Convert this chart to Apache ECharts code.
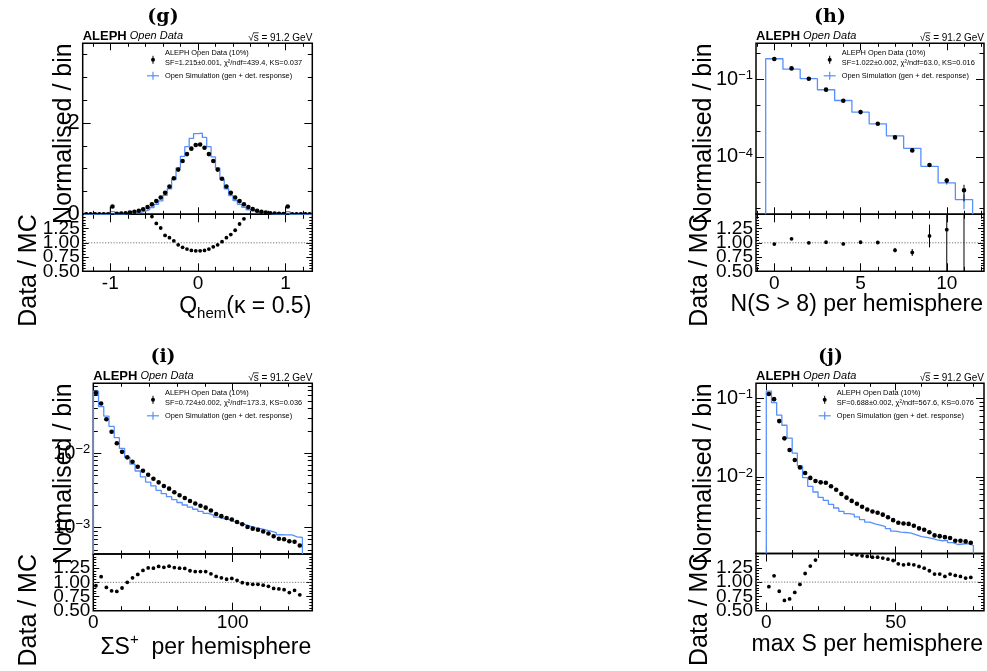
<!DOCTYPE html>
<html>
<head>
<meta charset="utf-8">
<script src="https://cdn.jsdelivr.net/npm/echarts@6/dist/echarts.min.js"></script>
<style>
  html, body { margin: 0; padding: 0; background: #fff; }
  #chart { width: 987px; height: 671px; }
</style>
</head>
<body>
<div id="chart"></div>
<script>
// ---------------------------------------------------------------------------
// (g) hemisphere charge Q_hem (kappa = 0.5): 52 bins of 0.05 starting at -1.3
const qhemBinStart = -1.3;
const qhemBinWidth = 0.05;
const qhemData = [0, 0, 0, 0, 0, 0,
  0.17, 0.009, 0.015, 0.023, 0.036, 0.055, 0.078, 0.112, 0.158, 0.218,
  0.29, 0.37, 0.47, 0.61, 0.79, 0.98, 1.17, 1.32, 1.44, 1.52,
  1.53, 1.46, 1.32, 1.17, 0.98, 0.78, 0.61, 0.47, 0.37, 0.29,
  0.22, 0.16, 0.113, 0.079, 0.055, 0.036, 0.023, 0.015, 0.009, 0.005,
  0.17, 0, 0, 0, 0, 0];
const qhemSim = [0, 0, 0, 0, 0, 0,
  0.06, 0.004, 0.007, 0.012, 0.019, 0.03, 0.045, 0.068, 0.10, 0.149,
  0.216, 0.294, 0.416, 0.56, 0.763, 1.016, 1.272, 1.483, 1.663, 1.77,
  1.78, 1.686, 1.483, 1.258, 1.016, 0.765, 0.56, 0.41, 0.303, 0.218,
  0.155, 0.10, 0.068, 0.045, 0.03, 0.019, 0.012, 0.007, 0.004, 0.003,
  0.06, 0, 0, 0, 0, 0];
const qhemRatio = [null, null, null, null, null, null, null, null, null, null, null, null, null, null, null,
  1.46, 1.34, 1.26, 1.13, 1.09, 1.035, 0.965, 0.92, 0.89, 0.866, 0.86,
  0.86, 0.866, 0.89, 0.93, 0.965, 1.02, 1.09, 1.145, 1.22, 1.33, 1.42,
  null, null, null, null, null, null, null, null, null, null, null, null, null, null, null];
// bins holding the single-track hemispheres (|Q| = 1), drawn with a rising edge
const qhemEdgeBins = [6, 46];
const qhemXLabels = [-1, 0, 1];
const qhemYLabels = [0, 2];
const qhemStat = 'SF=1.215±0.001, χ²/ndf=439.4, KS=0.037';

// (h) number of tracks with S > 8 per hemisphere: integer bins 0..11
const nsBinStart = -0.5;
const nsBinWidth = 1;
const nsData = [0.593, 0.258, 0.103, 0.039, 0.01456, 0.0053, 0.00188, 5.6e-4, 1.76e-4, 4.8e-5, 1.22e-5, 5.1e-6];
const nsDataErr = [0.0006, 0.0004, 0.00025, 0.00015, 9e-5, 5.5e-5, 3.5e-5, 1.9e-5, 1.06e-5, 5.5e-6, 2.8e-6, 3.2e-6];
const nsSim = [0.607, 0.241, 0.103, 0.0386, 0.01486, 0.00525, 0.00187, 6.44e-4, 2.12e-4, 4.29e-5, 9.9e-6, 2.24e-6];
const nsSimErr = [2e-4, 1.3e-4, 8e-5, 5e-5, 3e-5, 1.8e-5, 1.1e-5, 6e-6, 3.5e-6, 1.6e-6, 1.5e-6, 1.3e-6];
const nsRatio = [0.977, 1.07, 1.0, 1.01, 0.98, 1.01, 1.005, 0.87, 0.83, 1.12, 1.23, 2.28];
const nsRatioErr = [0.002, 0.003, 0.004, 0.007, 0.011, 0.018, 0.02, 0.04, 0.06, 0.2, 0.75, 1.9];
const nsXLabels = [0, 5, 10];
const nsYLabels = [1e-4, 1e-1];
const nsStat = 'SF=1.022±0.002, χ²/ndf=63.0, KS=0.016';

// (i) sum of S+ per hemisphere: 40 bins over 0..150
const sumBinStart = 0;
const sumBinWidth = 3.75;
const sumData = [0.0646, 0.0468, 0.0288, 0.0195, 0.01365, 0.01047, 0.00883, 0.00771, 0.00661, 0.00583,
  0.00516, 0.00455, 0.00407, 0.00363, 0.00335, 0.00299, 0.00273, 0.00251, 0.00228, 0.00211,
  0.00197, 0.00186, 0.00170, 0.00153, 0.00143, 0.00135, 0.00129, 0.00119, 0.00111, 0.00102,
  0.000970, 0.000938, 0.000887, 0.000836, 0.000767, 0.000710, 0.000698, 0.000656, 0.000646, 0.000575];
const sumSim = [0.0687, 0.0426, 0.0317, 0.0230, 0.01626, 0.01164, 0.00883, 0.00715, 0.00579, 0.00482,
  0.00411, 0.00364, 0.00318, 0.00287, 0.00261, 0.00238, 0.00218, 0.00202, 0.00189, 0.00177,
  0.00166, 0.00156, 0.00148, 0.00139, 0.00132, 0.00128, 0.00121, 0.00115, 0.00111, 0.00105,
  0.00100, 0.000970, 0.000933, 0.000900, 0.000859, 0.000804, 0.000802, 0.000800, 0.000752, 0.000738];
const sumRatio = [0.94, 1.10, 0.91, 0.85, 0.84, 0.90, 1.0, 1.08, 1.14, 1.21,
  1.255, 1.25, 1.28, 1.265, 1.285, 1.26, 1.25, 1.245, 1.205, 1.19,
  1.19, 1.19, 1.15, 1.105, 1.08, 1.055, 1.07, 1.035, 0.995, 0.975,
  0.965, 0.965, 0.95, 0.93, 0.893, 0.884, 0.87, 0.82, 0.86, 0.78];
const sumXLabels = [0, 100];
const sumYLabels = [1e-3, 1e-2];
const sumStat = 'SF=0.724±0.002, χ²/ndf=173.3, KS=0.036';

// (j) maximum S per hemisphere: 40 bins over 0..80
const maxBinStart = 0;
const maxBinWidth = 2;
const maxData = [0.1138, 0.0977, 0.0513, 0.0309, 0.0220, 0.01637, 0.01318, 0.01119, 0.00968, 0.00885,
  0.00849, 0.00838, 0.00759, 0.00684, 0.00603, 0.00542, 0.00493, 0.00454, 0.00415, 0.00383,
  0.00361, 0.00348, 0.00329, 0.00305, 0.00280, 0.00260, 0.00254, 0.00251, 0.00238, 0.00220,
  0.00211, 0.00196, 0.00179, 0.00175, 0.00170, 0.00166, 0.00153, 0.00153, 0.00150, 0.00144];
const maxSim = [0.1236, 0.0881, 0.0611, 0.0454, 0.0312, 0.0200, 0.01374, 0.00973, 0.00757, 0.00640,
  0.00548, 0.00499, 0.00444, 0.00400, 0.00363, 0.00339, 0.00331, 0.00308, 0.00284, 0.00264,
  0.00251, 0.00242, 0.00232, 0.00218, 0.00203, 0.00197, 0.00195, 0.00191, 0.00182, 0.00173,
  0.00169, 0.00164, 0.00157, 0.00153, 0.00155, 0.00145, 0.00137, 0.00139, 0.00141, 0.00133];
const maxRatio = [0.92, 1.11, 0.84, 0.68, 0.705, 0.82, 0.96, 1.15, 1.28, 1.385,
  1.55, 1.68, 1.71, 1.71, 1.66, 1.6, 1.49, 1.477, 1.459, 1.448,
  1.436, 1.436, 1.42, 1.40, 1.378, 1.32, 1.302, 1.314, 1.302, 1.273,
  1.244, 1.198, 1.14, 1.14, 1.099, 1.14, 1.116, 1.099, 1.07, 1.081];
const maxXLabels = [0, 50];
const maxYLabels = [1e-2, 1e-1];
const maxStat = 'SF=0.688±0.002, χ²/ndf=567.6, KS=0.076';

// shared labels
const ratioYLabelsA = [0.5, 1.0];
const ratioYLabelsB = [0.75, 1.25];
const ratioReference = 1;
const dataLegend = 'ALEPH Open Data (10%)';
const simLegend = 'Open Simulation (gen + det. response)';
const energyLabel = '√s = 91.2 GeV';
const yTitleMain = 'Normalised / bin';
const yTitleRatio = 'Data / MC';

// ---------------------------------------------------------------------------
const FONT = '"Liberation Sans", Arial, Helvetica, sans-serif';
const SERIF = '"DejaVu Serif", "Liberation Serif", serif';
const SIM_BLUE = '#5790fc';

function linTicks(min, max, step, skip) {
  const out = [];
  for (let v = Math.ceil(min / step - 1e-9) * step; v <= max + 1e-9; v += step) {
    const r = Math.round(v * 1e6) / 1e6;
    if (!skip.some(s => Math.abs(s - r) < 1e-6)) out.push(r);
  }
  return out;
}
function logMinorTicks(min, max, sub, skip) {
  const out = [];
  for (let k = Math.floor(min) - 1; k <= Math.ceil(max); k++) {
    const mult = sub ? [1, 2, 3, 4, 5, 6, 7, 8, 9] : [1];
    mult.forEach(m => {
      const v = k + Math.log10(m);
      if (v >= min && v <= max && !skip.some(s => Math.abs(s - v) < 1e-6)) out.push(v);
    });
  }
  return out;
}
const expLabel = v => {
  const e = Math.round(v);
  return '10{sup|' + (e < 0 ? '\u2212' + (-e) : String(e)) + '}';
};

const panels = [
  {
    tag: '(g)', frame: { l: 82.7, r: 312.3, t: 43.3, m: 214.3, b: 271.3 },
    log: false,
    x: { min: -1.315, max: 1.305, major: qhemXLabels, minorStep: 0.2, labels: qhemXLabels },
    y: { min: 0, max: 3.75, major: [0, 2], minorStep: 0.5, labels: qhemYLabels },
    binStart: qhemBinStart, binWidth: qhemBinWidth,
    data: qhemData, sim: qhemSim, ratio: qhemRatio, edgeBins: qhemEdgeBins,
    stat: qhemStat, xTitle: 'Q{sub|hem}(κ = 0.5)',
    text: { tagX: 163, tagY: 17.5, legendX: 165, yTitleX: 77, rTitleX: 42, xTitleDy: 35 }
  },
  {
    tag: '(h)', frame: { l: 756, r: 984, t: 43.3, m: 214.3, b: 271.3 },
    log: true, subDecades: false,
    x: { min: -1.062, max: 12.16, major: nsXLabels, minorStep: 1, labels: nsXLabels },
    y: { min: -6.22, max: 0.38, labels: nsYLabels },
    binStart: nsBinStart, binWidth: nsBinWidth,
    data: nsData, dataErr: nsDataErr, sim: nsSim, simErr: nsSimErr, ratio: nsRatio, ratioErr: nsRatioErr,
    stat: nsStat, xTitle: 'N(S > 8) per hemisphere',
    text: { tagX: 830, tagY: 17.5, legendX: 841.7, yTitleX: 717, rTitleX: 713, xTitleDy: 33 }
  },
  {
    tag: '(i)', frame: { l: 93.3, r: 312.3, t: 383.3, m: 554, b: 610.7 },
    log: true, subDecades: true,
    x: { min: 0, max: 157.1, major: sumXLabels, minorStep: 20, labels: sumXLabels },
    y: { min: -3.354, max: -1.058, labels: sumYLabels },
    binStart: sumBinStart, binWidth: sumBinWidth,
    data: sumData, sim: sumSim, ratio: sumRatio,
    stat: sumStat, xTitle: 'ΣS{sup|+}  per hemisphere',
    text: { tagX: 163, tagY: 357.5, legendX: 165, yTitleX: 77, rTitleX: 42, xTitleDy: 37 }
  },
  {
    tag: '(j)', frame: { l: 756, r: 984, t: 383.3, m: 553.5, b: 610.7 },
    log: true, subDecades: true,
    x: { min: -3.98, max: 84.1, major: maxXLabels, minorStep: 10, labels: maxXLabels },
    y: { min: -2.978, max: -0.808, labels: maxYLabels },
    binStart: maxBinStart, binWidth: maxBinWidth,
    data: maxData, sim: maxSim, ratio: maxRatio,
    stat: maxStat, xTitle: 'max S per hemisphere',
    text: { tagX: 830.5, tagY: 357.5, legendX: 836.7, yTitleX: 717, rTitleX: 713, xTitleDy: 34 }
  }
];

const option = {
  animation: false,
  backgroundColor: '#ffffff',
  textStyle: { fontFamily: FONT, color: '#000' },
  grid: [], xAxis: [], yAxis: [], series: [], graphic: []
};

function labelStyle(extra) {
  return Object.assign({
    show: true, margin: 3, color: '#000', fontFamily: FONT,
    hideOverlap: false, showMinLabel: true, showMaxLabel: true
  }, extra);
}

// Each side of a pad gets two axes: one for major ticks, one for minor ticks.
// The optional labels ride on the bottom/left pair (labelMajor on the first,
// labelMinor on the second, so that tightly packed labels stay visible).
function axisPair(dim, gridIndex, min, max, major, minor, lens, labelMajor, labelMinor) {
  const sides = dim === 'x' ? ['bottom', 'top'] : ['left', 'right'];
  const list = [];
  sides.forEach((pos, s) => {
    const base = {
      type: 'value', gridIndex, position: pos, min, max, silent: true,
      axisLine: { show: false, onZero: false },
      splitLine: { show: false }, splitArea: { show: false }
    };
    list.push(Object.assign({}, base, {
      axisTick: { show: true, inside: true, length: lens[0], customValues: major, lineStyle: { color: '#000', width: 1 } },
      axisLabel: (s === 0 && labelMajor) ? labelMajor : { show: false }
    }));
    list.push(Object.assign({}, base, {
      axisTick: { show: minor.length > 0, inside: true, length: lens[1], customValues: minor, lineStyle: { color: '#000', width: 1 } },
      axisLabel: (s === 0 && labelMinor) ? labelMinor : { show: false }
    }));
  });
  return list;
}

function pointRenderer(radius) {
  return function (params, api) {
    const x = api.value(0), y = api.value(1), lo = api.value(2), hi = api.value(3);
    const c = api.coord([x, y]);
    const kids = [];
    if (isFinite(lo) && isFinite(hi)) {
      const a = api.coord([x, lo]), b = api.coord([x, hi]);
      kids.push({ type: 'line', shape: { x1: a[0], y1: a[1], x2: b[0], y2: b[1] }, style: { stroke: '#000', lineWidth: 1 } });
    }
    kids.push({ type: 'circle', shape: { cx: c[0], cy: c[1], r: radius }, style: { fill: '#000' } });
    return { type: 'group', children: kids };
  };
}
function verticalRenderer(color, width) {
  return function (params, api) {
    const x = api.value(0);
    const a = api.coord([x, api.value(1)]), b = api.coord([x, api.value(2)]);
    return { type: 'line', shape: { x1: a[0], y1: a[1], x2: b[0], y2: b[1] }, style: { stroke: color, lineWidth: width } };
  };
}

const mctx = document.createElement('canvas').getContext('2d');
function textWidth(str, font) { mctx.font = font; return mctx.measureText(str).width; }

panels.forEach((P, p) => {
  const f = P.frame;
  const gMain = 2 * p, gRatio = 2 * p + 1;
  const gridBase = { show: true, borderColor: '#000', borderWidth: 1.5, backgroundColor: 'rgba(0,0,0,0)', containLabel: false, outerBoundsMode: 'none' };
  option.grid.push(Object.assign({ left: f.l, top: f.t, width: f.r - f.l, height: f.m - f.t }, gridBase));
  option.grid.push(Object.assign({ left: f.l, top: f.m, width: f.r - f.l, height: f.b - f.m }, gridBase));

  const tr = P.log ? (v => Math.log10(v)) : (v => v);
  const xMinor = linTicks(P.x.min, P.x.max, P.x.minorStep, P.x.major);
  let yMajor, yMinor, yLabel;
  if (P.log) {
    yMajor = P.y.labels.map(v => Math.log10(v));
    yMinor = logMinorTicks(P.y.min, P.y.max, P.subDecades, yMajor);
    yLabel = labelStyle({
      customValues: yMajor, formatter: expLabel, fontSize: 20,
      rich: { sup: { fontSize: 13, lineHeight: 13, verticalAlign: 'top', color: '#000', fontFamily: FONT } }
    });
  } else {
    yMajor = P.y.major;
    yMinor = linTicks(P.y.min, P.y.max, P.y.minorStep, yMajor);
    yLabel = labelStyle({ customValues: P.y.labels, formatter: v => String(v), fontSize: 22 });
  }
  const xLabel = labelStyle({ customValues: P.x.labels, formatter: v => String(v), fontSize: 19 });
  const rLabelA = labelStyle({ customValues: ratioYLabelsA, formatter: v => v.toFixed(2), fontSize: 19 });
  const rLabelB = labelStyle({ customValues: ratioYLabelsB, formatter: v => v.toFixed(2), fontSize: 19 });

  // main pad axes
  option.xAxis.push(...axisPair('x', gMain, P.x.min, P.x.max, P.x.major, xMinor, [7, 3.5], null, null));
  option.yAxis.push(...axisPair('y', gMain, P.y.min, P.y.max, yMajor, yMinor, [8, 4.5], yLabel, null));
  // ratio pad axes
  option.xAxis.push(...axisPair('x', gRatio, P.x.min, P.x.max, P.x.major, xMinor, [8, 4.5], xLabel, null));
  option.yAxis.push(...axisPair('y', gRatio, 0.5, 1.5, [0.5, 0.75, 1.0, 1.25, 1.5],
    linTicks(0.5, 1.5, 0.05, [0.5, 0.75, 1.0, 1.25, 1.5]), [6, 3], rLabelA, rLabelB));

  const mainAx = 4 * gMain, ratioAx = 4 * gRatio;
  const n = P.data.length;
  const lo = k => P.binStart + k * P.binWidth;
  const mid = k => P.binStart + (k + 0.5) * P.binWidth;
  const floorY = P.log ? P.y.min : 0;

  // simulation step histogram
  const steps = [[lo(0), floorY]];
  P.sim.forEach((v, k) => {
    const y = v > 0 ? tr(v) : floorY;
    steps.push([lo(k), y], [lo(k + 1), y]);
  });
  steps.push([lo(n), floorY]);
  option.series.push({
    type: 'line', name: simLegend, xAxisIndex: mainAx, yAxisIndex: mainAx, data: steps,
    symbol: 'none', showSymbol: false, clip: true, silent: true, z: 2,
    lineStyle: { color: SIM_BLUE, width: 1.3 }
  });
  if (P.simErr) {
    option.series.push({
      type: 'custom', xAxisIndex: mainAx, yAxisIndex: mainAx, clip: true, silent: true, z: 2,
      data: P.sim.map((v, k) => [mid(k), tr(Math.max(v - P.simErr[k], v * 1e-3)), tr(v + P.simErr[k])]),
      encode: { x: 0, y: [1, 2] }, renderItem: verticalRenderer(SIM_BLUE, 1.3)
    });
  }
  if (P.edgeBins) {
    option.series.push({
      type: 'custom', xAxisIndex: mainAx, yAxisIndex: mainAx, clip: true, silent: true, z: 3,
      data: P.edgeBins.map(k => [lo(k), floorY, P.data[k]]),
      encode: { x: 0, y: [1, 2] }, renderItem: verticalRenderer('#000', 1)
    });
  }

  // data points
  const pts = P.data.map((v, k) => {
    let a = NaN, b = NaN;
    if (P.dataErr) {
      a = tr(Math.max(v - P.dataErr[k], v * 1e-3));
      b = tr(v + P.dataErr[k]);
    }
    return [mid(k), P.log ? tr(v) : v, a, b];
  });
  option.series.push({
    type: 'custom', name: dataLegend, xAxisIndex: mainAx, yAxisIndex: mainAx, clip: true, silent: true, z: 4,
    data: pts, encode: { x: 0, y: 1 }, renderItem: pointRenderer(2.3)
  });

  // ratio pad
  option.series.push({
    type: 'line', xAxisIndex: ratioAx, yAxisIndex: ratioAx, symbol: 'none', showSymbol: false, silent: true, z: 1,
    data: [[P.x.min, ratioReference], [P.x.max, ratioReference]],
    lineStyle: { color: '#666', width: 0.9, type: [1.2, 1.6] }
  });
  const rpts = [];
  P.ratio.forEach((v, k) => {
    if (v === null) return;
    const e = P.ratioErr ? P.ratioErr[k] : NaN;
    rpts.push([mid(k), v, P.ratioErr ? v - e : NaN, P.ratioErr ? v + e : NaN]);
  });
  option.series.push({
    type: 'custom', xAxisIndex: ratioAx, yAxisIndex: ratioAx, clip: true, silent: true, z: 4,
    data: rpts, encode: { x: 0, y: 1 }, renderItem: pointRenderer(1.9)
  });

  // panel tag, experiment label, energy
  const T = P.text;
  option.graphic.push({
    type: 'text', x: T.tagX, y: T.tagY, silent: true,
    style: { text: P.tag, fontFamily: SERIF, fontWeight: 'bold', fontSize: 19, fill: '#000', align: 'center', verticalAlign: 'middle' }
  });
  option.graphic.push({
    type: 'text', x: f.l, y: f.t - 0.5, silent: true,
    style: {
      text: '{b|ALEPH} {it|Open Data}', fontFamily: FONT, fontSize: 11, fill: '#000', align: 'left', verticalAlign: 'bottom',
      rich: { b: { fontSize: 13, fontWeight: 'bold', fontFamily: FONT, fill: '#000' }, it: { fontSize: 11, fontStyle: 'italic', fontFamily: FONT, fill: '#000' } }
    }
  });
  option.graphic.push({
    type: 'text', x: f.r, y: f.t - 0.5, silent: true,
    style: { text: energyLabel, fontFamily: FONT, fontSize: 10, fill: '#000', align: 'right', verticalAlign: 'bottom' }
  });
  const eFont = '10px ' + FONT;
  const sx2 = f.r - textWidth(energyLabel.slice(2), eFont);
  const sx1 = f.r - textWidth(energyLabel.slice(1), eFont) - 0.5;
  option.graphic.push({
    type: 'line', silent: true, shape: { x1: sx1, y1: f.t - 10.5, x2: sx2, y2: f.t - 10.5 },
    style: { stroke: '#000', lineWidth: 0.8 }
  });

  // legend block
  const lx = T.legendX, lt = f.t;
  const legFont = { fontFamily: FONT, fontSize: 7.4, fill: '#000', align: 'left', verticalAlign: 'middle' };
  option.graphic.push({ type: 'text', x: lx, y: lt + 9.7, silent: true, style: Object.assign({ text: dataLegend }, legFont) });
  option.graphic.push({ type: 'text', x: lx, y: lt + 19.3, silent: true, style: Object.assign({ text: P.stat }, legFont) });
  option.graphic.push({ type: 'text', x: lx, y: lt + 32.2, silent: true, style: Object.assign({ text: simLegend }, legFont) });
  option.graphic.push({ type: 'line', silent: true, shape: { x1: lx - 12, y1: lt + 12.5, x2: lx - 12, y2: lt + 20.5 }, style: { stroke: '#000', lineWidth: 1 } });
  option.graphic.push({ type: 'circle', silent: true, shape: { cx: lx - 12, cy: lt + 16.5, r: 2 }, style: { fill: '#000' } });
  option.graphic.push({ type: 'line', silent: true, shape: { x1: lx - 18, y1: lt + 32.5, x2: lx - 6, y2: lt + 32.5 }, style: { stroke: SIM_BLUE, lineWidth: 1.2 } });
  option.graphic.push({ type: 'line', silent: true, shape: { x1: lx - 12, y1: lt + 28.5, x2: lx - 12, y2: lt + 36.5 }, style: { stroke: SIM_BLUE, lineWidth: 1.2 } });

  // axis titles
  option.graphic.push({
    type: 'text', x: f.r - 1, y: f.b + T.xTitleDy, silent: true,
    style: {
      text: P.xTitle, fontFamily: FONT, fontSize: 23, lineHeight: 30, fill: '#000', align: 'right', verticalAlign: 'middle',
      rich: {
        sub: { fontSize: 15, lineHeight: 15, verticalAlign: 'bottom', fontFamily: FONT, fill: '#000' },
        sup: { fontSize: 15, lineHeight: 15, verticalAlign: 'top', fontFamily: FONT, fill: '#000' }
      }
    }
  });
  option.graphic.push({
    type: 'text', x: T.yTitleX, y: f.t, rotation: Math.PI / 2, silent: true,
    style: { text: yTitleMain, fontFamily: FONT, fontSize: 25, fill: '#000', align: 'right', verticalAlign: 'bottom' }
  });
  option.graphic.push({
    type: 'text', x: T.rTitleX, y: f.m, rotation: Math.PI / 2, silent: true,
    style: { text: yTitleRatio, fontFamily: FONT, fontSize: 25, fill: '#000', align: 'right', verticalAlign: 'bottom' }
  });
});

const chart = echarts.init(document.getElementById('chart'), null, { renderer: 'canvas', width: 987, height: 671 });
chart.setOption(option);
</script>
</body>
</html>
